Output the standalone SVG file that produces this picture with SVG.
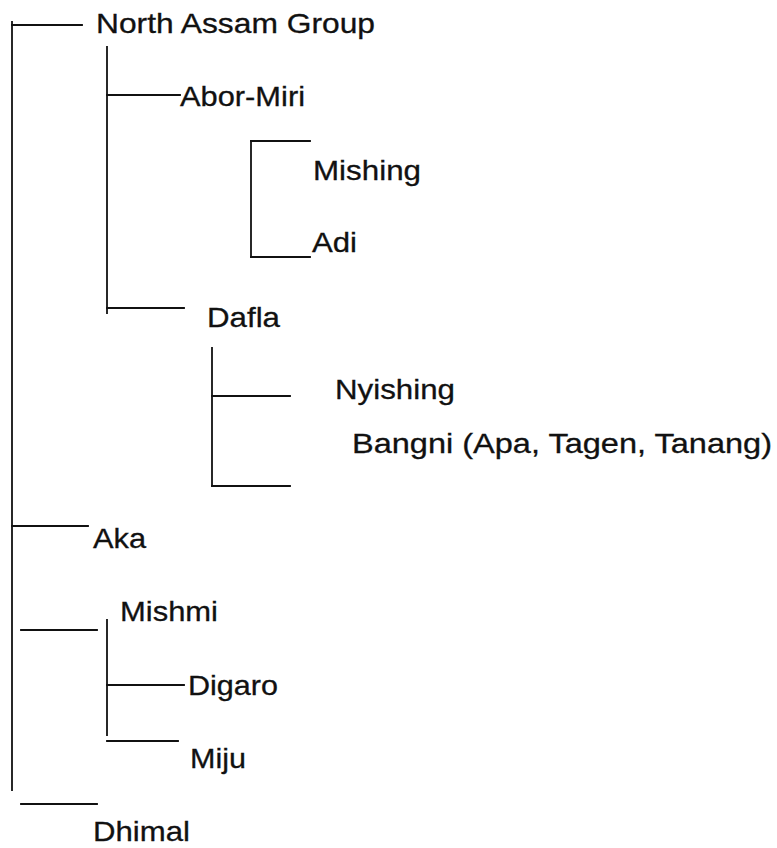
<svg xmlns="http://www.w3.org/2000/svg" width="777" height="848" viewBox="0 0 777 848">
  <style>
    .bg { fill: #ffffff; }
    .link { stroke: #111111; stroke-width: 1.8; fill: none; stroke-linecap: square; }
    .label { font-family: "Liberation Sans", Arial, Helvetica, sans-serif; font-size: 28px; fill: #111111; stroke: #111111; stroke-width: 0.3; }
  </style>
  <rect class="bg" x="0" y="0" width="777" height="848"/>

  <!-- tree connectors -->
  <g id="connectors">
    <!-- trunk -->
    <line class="link" x1="12" y1="22" x2="12" y2="790"/>
    <line class="link" x1="12" y1="25" x2="82" y2="25"/>
    <!-- North Assam branch -->
    <line class="link" x1="107" y1="47" x2="107" y2="313"/>
    <line class="link" x1="107" y1="95" x2="180" y2="95"/>
    <line class="link" x1="107" y1="308" x2="184" y2="308"/>
    <!-- Abor-Miri bracket -->
    <line class="link" x1="251" y1="141" x2="251" y2="257"/>
    <line class="link" x1="251" y1="141" x2="310" y2="141"/>
    <line class="link" x1="251" y1="257" x2="310" y2="257"/>
    <!-- Dafla bracket -->
    <line class="link" x1="212" y1="348" x2="212" y2="486"/>
    <line class="link" x1="212" y1="396" x2="290" y2="396"/>
    <line class="link" x1="212" y1="486" x2="290" y2="486"/>
    <!-- Aka -->
    <line class="link" x1="12" y1="526" x2="88" y2="526"/>
    <!-- Mishmi branch -->
    <line class="link" x1="21" y1="630" x2="97" y2="630"/>
    <line class="link" x1="107" y1="620" x2="107" y2="735"/>
    <line class="link" x1="107" y1="685" x2="184" y2="685"/>
    <line class="link" x1="107" y1="741" x2="178" y2="741"/>
    <!-- Dhimal -->
    <line class="link" x1="21" y1="804" x2="97" y2="804"/>
  </g>

  <g id="north-assam"><text class="label" x="96" y="33" textLength="279" lengthAdjust="spacingAndGlyphs">North Assam Group</text></g>
  <g id="abor-miri"><text class="label" x="180" y="106" textLength="125" lengthAdjust="spacingAndGlyphs">Abor-Miri</text></g>
  <g id="mishing"><text class="label" x="313" y="180" textLength="108" lengthAdjust="spacingAndGlyphs">Mishing</text></g>
  <g id="adi"><text class="label" x="312" y="252" textLength="45" lengthAdjust="spacingAndGlyphs">Adi</text></g>
  <g id="dafla"><text class="label" x="207" y="327" textLength="73" lengthAdjust="spacingAndGlyphs">Dafla</text></g>
  <g id="nyishing"><text class="label" x="335" y="399" textLength="120" lengthAdjust="spacingAndGlyphs">Nyishing</text></g>
  <g id="bangni"><text class="label" x="352" y="453" textLength="420" lengthAdjust="spacingAndGlyphs">Bangni (Apa, Tagen, Tanang)</text></g>
  <g id="aka"><text class="label" x="93" y="548" textLength="53" lengthAdjust="spacingAndGlyphs">Aka</text></g>
  <g id="mishmi"><text class="label" x="120" y="621" textLength="98" lengthAdjust="spacingAndGlyphs">Mishmi</text></g>
  <g id="digaro"><text class="label" x="188" y="695" textLength="90" lengthAdjust="spacingAndGlyphs">Digaro</text></g>
  <g id="miju"><text class="label" x="190" y="768" textLength="56" lengthAdjust="spacingAndGlyphs">Miju</text></g>
  <g id="dhimal"><text class="label" x="93" y="841" textLength="97" lengthAdjust="spacingAndGlyphs">Dhimal</text></g>
</svg>
